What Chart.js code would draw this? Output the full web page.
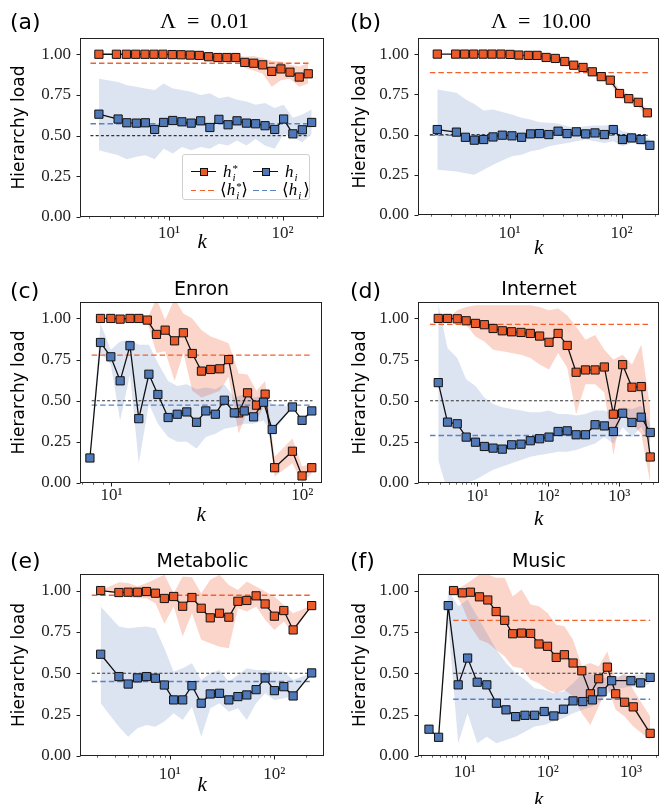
<!DOCTYPE html>
<html>
<head>
<meta charset="utf-8">
<script src="https://cdn.jsdelivr.net/npm/chart.js@4.4.1/dist/chart.umd.min.js"></script>
<style>
  html, body { margin: 0; padding: 0; background: #fff; }
  #fig { position: relative; width: 661px; height: 804px; overflow: hidden; background: #fff; }
  #fig canvas { position: absolute; }
  .letter { position: absolute; font: 22px "DejaVu Sans"; line-height: 1; color: #000; white-space: nowrap; }
  .title { position: absolute; line-height: 1; color: #000; white-space: nowrap; transform: translateX(-50%); }
  .legend { position: absolute; border: 1px solid #cfcfcf; border-radius: 3px; background: rgba(255,255,255,0.85); box-sizing: border-box; }
  .legend > * { position: absolute; }
  .lline { height: 1.3px; background: #111; }
  .lmark { width: 8px; height: 8px; border: 1px solid #111; box-sizing: border-box; }
  .ldash { height: 1.5px; }
  .ml { font: 17px "Liberation Serif", "DejaVu Serif"; line-height: 1; white-space: nowrap; color: #000; }
  .ml i { font-style: italic; }
  .ss { position: relative; display: inline-block; width: 6px; height: 10px; }
  .ss span { position: absolute; left: 1px; font-size: 11px; line-height: 1; }
  .ss .up { top: -4px; }
  .ss .dn { top: 5px; font-style: italic; }
</style>
</head>
<body>
<div id="fig"></div>
<script>
// ===== Hierarchy load vs degree, six panels =====

const ORANGE      = '#ED5A2A';
const ORANGE_DASH = '#F2622E';
const ORANGE_BAND = 'rgba(240,100,60,0.27)';
const BLUE        = '#4E78B8';
const BLUE_DASH   = '#5A82C6';
const BLUE_BAND   = 'rgba(80,115,185,0.2)';
const INK         = '#222';

const Y_TICKS = [0, 0.25, 0.5, 0.75, 1.0];
const X_TICK_LABELS = { 10: '10¹', 100: '10²', 1000: '10³' };

// ── (a) Λ = 0.01 ────────────────────────────────────────────────────────────
const A_K_STAR   = [2.42, 3.45, 4.22, 5.1, 6.15, 7.38, 8.85, 10.7, 12.8, 15.4, 18.5, 22.3, 26.9, 32.3, 38.7, 46.4, 55.7, 66.8, 80.2, 96.6, 116, 140, 168];
const A_HSTAR    = [1.0, 1.0, 1.0, 1.0, 1.0, 1.0, 1.0, 0.998, 0.997, 0.995, 0.993, 0.985, 0.98, 0.98, 0.98, 0.95, 0.945, 0.935, 0.895, 0.91, 0.89, 0.86, 0.88];
const A_HSTAR_HI = [1, 1, 1, 1, 1, 1, 1, 1, 1, 1, 1, 0.995, 0.99, 0.99, 0.995, 0.985, 0.99, 0.975, 0.96, 0.955, 0.935, 0.925, 0.945];
const A_HSTAR_LO = [1, 1, 1, 1, 1, 1, 1, 0.996, 0.994, 0.99, 0.986, 0.975, 0.97, 0.97, 0.965, 0.915, 0.9, 0.88, 0.8, 0.84, 0.85, 0.8, 0.82];
const A_K        = [2.42, 3.57, 4.26, 5.17, 6.2, 7.48, 8.98, 10.8, 13.0, 15.7, 19.0, 22.9, 27.5, 33.1, 39.7, 48.0, 57.9, 70.0, 85.1, 102, 123, 149, 180];
const A_H        = [0.632, 0.602, 0.579, 0.577, 0.579, 0.538, 0.581, 0.593, 0.585, 0.577, 0.591, 0.55, 0.6, 0.567, 0.591, 0.577, 0.573, 0.561, 0.538, 0.602, 0.511, 0.536, 0.581];
const A_H_HI     = [0.85, 0.83, 0.81, 0.8, 0.79, 0.78, 0.82, 0.79, 0.78, 0.77, 0.75, 0.76, 0.73, 0.74, 0.72, 0.71, 0.69, 0.7, 0.67, 0.69, 0.61, 0.63, 0.66];
const A_H_LO     = [0.41, 0.38, 0.355, 0.37, 0.38, 0.355, 0.42, 0.39, 0.43, 0.41, 0.43, 0.42, 0.45, 0.44, 0.47, 0.44, 0.48, 0.44, 0.42, 0.51, 0.49, 0.46, 0.51];
const A_MEANS    = [0.945, 0.573, 0.5];   // <h*>, <h>, neutral
const A_SPAN     = [2.04, 171];

// ── (b) Λ = 10.00 ───────────────────────────────────────────────────────────
const B_K_STAR   = [2.26, 3.30, 3.97, 4.78, 5.80, 6.97, 8.38, 10.1, 12.1, 14.7, 17.6, 21.2, 25.6, 31.1, 37.4, 45.3, 54.8, 65.9, 79.3, 96, 116, 141, 170];
const B_HSTAR    = [1.0, 1.0, 1.0, 1.0, 1.0, 1.0, 1.0, 0.998, 0.994, 0.992, 0.992, 0.979, 0.973, 0.954, 0.931, 0.917, 0.89, 0.86, 0.838, 0.755, 0.723, 0.70, 0.635];
const B_HSTAR_HI = [1, 1, 1, 1, 1, 1, 1, 1, 0.997, 0.996, 0.996, 0.985, 0.98, 0.963, 0.942, 0.93, 0.905, 0.88, 0.86, 0.78, 0.75, 0.725, 0.655];
const B_HSTAR_LO = [1, 1, 1, 1, 1, 1, 1, 0.996, 0.991, 0.988, 0.988, 0.973, 0.966, 0.945, 0.92, 0.904, 0.873, 0.84, 0.815, 0.73, 0.695, 0.672, 0.61];
const B_K        = [2.26, 3.35, 4.03, 4.84, 5.87, 7.11, 8.6, 10.5, 12.8, 15.4, 18.5, 22.4, 27.1, 32.6, 39.5, 47.8, 57.9, 70.2, 84.4, 102, 123, 149, 179];
const B_H        = [0.531, 0.515, 0.483, 0.465, 0.469, 0.485, 0.496, 0.492, 0.483, 0.504, 0.506, 0.5, 0.521, 0.506, 0.517, 0.504, 0.51, 0.5, 0.531, 0.469, 0.479, 0.469, 0.433];
const B_H_HI     = [0.78, 0.76, 0.72, 0.69, 0.65, 0.656, 0.64, 0.625, 0.604, 0.594, 0.577, 0.573, 0.569, 0.552, 0.542, 0.552, 0.556, 0.556, 0.562, 0.521, 0.51, 0.49, 0.47];
const B_H_LO     = [0.281, 0.271, 0.26, 0.25, 0.281, 0.313, 0.338, 0.365, 0.375, 0.396, 0.406, 0.427, 0.438, 0.448, 0.458, 0.469, 0.458, 0.448, 0.458, 0.427, 0.448, 0.438, 0.42];
const B_MEANS    = [0.885, 0.495, 0.5];
const B_SPAN     = [1.94, 172];

// ── (c) Enron ───────────────────────────────────────────────────────────────
const C_K_STAR   = [8.76, 9.92, 11.1, 12.5, 13.9, 15.4, 17.2, 19.1, 21.4, 23.8, 26.5, 29.6, 33.1, 36.9, 41.1, 46.4, 51.6, 57.5, 63.8, 71.5, 88.7, 99.6, 112];
const C_HSTAR    = [1.0, 1.0, 0.996, 1.0, 1.0, 0.99, 0.903, 0.929, 0.864, 0.913, 0.787, 0.68, 0.69, 0.694, 0.75, 0.426, 0.548, 0.473, 0.54, 0.093, 0.193, 0.043, 0.093];
const C_HSTAR_HI = [1, 1, 1, 1, 1, 1, 1.12, 0.99, 1.12, 1.03, 1.0, 0.93, 0.89, 0.87, 0.85, 0.665, 0.66, 0.56, 0.62, 0.16, 0.27, 0.1, 0.12];
const C_HSTAR_LO = [1, 1, 0.99, 1, 1, 0.98, 0.79, 0.8, 0.62, 0.79, 0.56, 0.52, 0.54, 0.56, 0.645, 0.3, 0.44, 0.38, 0.48, 0.04, 0.12, 0.0, 0.06];
const C_K        = [7.71, 8.76, 9.92, 11.1, 12.5, 13.9, 15.7, 17.5, 19.8, 22.1, 24.8, 27.9, 31.2, 35.0, 39.0, 44.0, 49.6, 55.5, 62.6, 69.5, 88.7, 99.6, 112];
const C_H        = [0.152, 0.854, 0.767, 0.621, 0.834, 0.391, 0.661, 0.538, 0.398, 0.418, 0.432, 0.369, 0.438, 0.418, 0.503, 0.426, 0.438, 0.402, 0.491, 0.325, 0.462, 0.381, 0.438];
const C_H_HI     = [0.152, 0.97, 0.81, 0.86, 0.87, 0.84, 0.84, 0.73, 0.62, 0.59, 0.6, 0.57, 0.58, 0.57, 0.6, 0.52, 0.54, 0.52, 0.53, 0.48, 0.462, 0.381, 0.438];
const C_H_LO     = [0.152, 0.79, 0.72, 0.38, 0.66, 0.12, 0.48, 0.36, 0.28, 0.25, 0.25, 0.21, 0.28, 0.3, 0.33, 0.34, 0.36, 0.36, 0.38, 0.3, 0.462, 0.381, 0.438];
const C_MEANS    = [0.777, 0.473, 0.5];
const C_SPAN     = [7.87, 113];

// ── (d) Internet ────────────────────────────────────────────────────────────
const D_K        = [2.8, 3.78, 5.18, 6.93, 9.37, 12.5, 16.6, 22.4, 30.3, 41.1, 55.6, 75.2, 102, 137, 184, 246, 333, 455, 615, 824, 1114, 1507, 2037, 2730];
const D_HSTAR    = [1.0, 1.0, 0.998, 0.986, 0.97, 0.962, 0.939, 0.925, 0.919, 0.915, 0.909, 0.893, 0.855, 0.909, 0.836, 0.673, 0.687, 0.687, 0.705, 0.418, 0.719, 0.582, 0.586, 0.158];
const D_HSTAR_HI = [1.0, 1.0, 1.05, 1.07, 1.08, 1.08, 1.08, 1.08, 1.08, 1.08, 1.08, 1.07, 1.05, 1.06, 1.02, 0.95, 0.87, 0.9, 0.81, 0.75, 0.78, 0.72, 0.84, 0.45];
const D_HSTAR_LO = [1.0, 1.0, 0.98, 0.96, 0.89, 0.86, 0.81, 0.8, 0.79, 0.78, 0.76, 0.72, 0.69, 0.79, 0.7, 0.42, 0.6, 0.6, 0.55, 0.17, 0.46, 0.36, 0.3, 0.0];
const D_H        = [0.61, 0.37, 0.36, 0.279, 0.248, 0.222, 0.212, 0.206, 0.232, 0.236, 0.257, 0.269, 0.279, 0.313, 0.317, 0.293, 0.293, 0.354, 0.347, 0.313, 0.424, 0.368, 0.4, 0.307];
const D_H_HI     = [1.09, 0.82, 0.76, 0.63, 0.59, 0.52, 0.48, 0.46, 0.45, 0.44, 0.43, 0.43, 0.44, 0.42, 0.42, 0.41, 0.42, 0.44, 0.44, 0.42, 0.46, 0.45, 0.47, 0.36];
const D_H_LO     = [0.14, -0.05, -0.02, 0.0, 0.02, 0.05, 0.08, 0.1, 0.12, 0.14, 0.16, 0.17, 0.18, 0.19, 0.19, 0.2, 0.22, 0.24, 0.28, 0.24, 0.34, 0.28, 0.34, 0.24];
const D_MEANS    = [0.964, 0.289, 0.5];
const D_SPAN     = [2.14, 2730];

// ── (e) Metabolic ───────────────────────────────────────────────────────────
const E_K        = [2.19, 3.27, 4.01, 4.92, 6.0, 7.3, 8.89, 10.9, 13.3, 16.3, 20.0, 24.4, 29.9, 36.7, 44.8, 54.5, 66.9, 81.5, 100, 123, 151, 227];
const E_HSTAR    = [1.0, 0.988, 0.99, 0.99, 0.994, 0.984, 0.952, 0.964, 0.905, 0.958, 0.893, 0.835, 0.863, 0.839, 0.935, 0.94, 0.968, 0.919, 0.845, 0.879, 0.762, 0.909];
const E_HSTAR_HI = [1.0, 1.05, 1.045, 1.024, 1.045, 1.07, 1.095, 0.984, 1.085, 1.08, 0.984, 1.065, 1.095, 1.034, 1.004, 1.054, 1.025, 0.994, 0.964, 0.913, 0.863, 0.909];
const E_HSTAR_LO = [1.0, 0.974, 0.96, 0.954, 0.954, 0.923, 0.8, 0.903, 0.722, 0.863, 0.702, 0.681, 0.661, 0.651, 0.893, 0.873, 0.903, 0.823, 0.762, 0.813, 0.742, 0.909];
const E_H        = [0.615, 0.48, 0.435, 0.472, 0.48, 0.47, 0.429, 0.339, 0.339, 0.425, 0.319, 0.375, 0.379, 0.339, 0.359, 0.369, 0.401, 0.472, 0.395, 0.419, 0.363, 0.502];
const E_H_HI     = [0.903, 0.782, 0.772, 0.778, 0.782, 0.772, 0.651, 0.51, 0.53, 0.56, 0.46, 0.5, 0.52, 0.45, 0.49, 0.53, 0.52, 0.52, 0.51, 0.51, 0.46, 0.502];
const E_H_LO     = [0.319, 0.177, 0.117, 0.167, 0.188, 0.177, 0.208, 0.258, 0.218, 0.298, 0.117, 0.288, 0.319, 0.268, 0.288, 0.218, 0.319, 0.379, 0.339, 0.349, 0.359, 0.502];
const E_MEANS    = [0.972, 0.45, 0.5];
const E_SPAN     = [1.8, 227];

// ── (f) Music ───────────────────────────────────────────────────────────────
const F_K_STAR   = [7.31, 9.37, 11.7, 15.0, 18.9, 23.8, 30.2, 37.7, 48.3, 62.0, 78.0, 99.1, 126, 158, 201, 256, 325, 409, 520, 655, 839, 1067, 1706];
const F_HSTAR    = [1.0, 0.986, 0.99, 0.962, 0.943, 0.873, 0.82, 0.739, 0.743, 0.741, 0.677, 0.663, 0.596, 0.612, 0.562, 0.515, 0.376, 0.467, 0.537, 0.376, 0.325, 0.297, 0.137];
const F_HSTAR_HI = [1.0, 1.026, 1.057, 1.097, 1.097, 1.077, 1.077, 0.966, 1.006, 0.915, 0.905, 0.865, 0.794, 0.784, 0.703, 0.545, 0.562, 0.541, 0.632, 0.461, 0.501, 0.4, 0.238];
const F_HSTAR_LO = [1.0, 0.905, 0.784, 0.703, 0.683, 0.642, 0.602, 0.541, 0.531, 0.461, 0.44, 0.4, 0.38, 0.4, 0.36, 0.259, 0.188, 0.299, 0.42, 0.279, 0.238, 0.178, 0.097];
const F_K        = [3.70, 4.83, 6.31, 8.32, 10.8, 14.1, 18.4, 24.0, 31.3, 40.9, 53.0, 69.2, 90.4, 118, 154, 201, 263, 344, 449, 586, 1000, 1306, 1706];
const F_H        = [0.162, 0.113, 0.909, 0.43, 0.592, 0.446, 0.43, 0.319, 0.279, 0.238, 0.246, 0.246, 0.269, 0.242, 0.283, 0.333, 0.329, 0.339, 0.388, 0.455, 0.455, 0.442, 0.475];
const F_H_HI     = [0.162, 0.113, 1.0, 0.905, 0.945, 0.844, 0.743, 0.642, 0.562, 0.501, 0.461, 0.41, 0.4, 0.38, 0.39, 0.44, 0.501, 0.491, 0.471, 0.481, 0.491, 0.491, 0.501];
const F_H_LO     = [0.162, 0.113, 0.8, 0.077, 0.259, 0.077, 0.117, 0.077, 0.097, 0.117, 0.147, 0.178, 0.188, 0.208, 0.228, 0.259, 0.279, 0.299, 0.339, 0.4, 0.42, 0.41, 0.44];
const F_MEANS    = [0.82, 0.343, 0.5];
const F_SPAN     = [7.24, 1706];

// ── Panel layout (page pixels) ──────────────────────────────────────────────
// area = [left, top, right, bottom] of the axes box; xr = log x range.
const PANELS = [
  { tag: '(a)', title: 'Λ\u2002=\u20020.01', serif: true, area: [80, 38, 325, 217], xr: [1.65, 232], tickPad: 6, kPad: 22, yPad: 9,
    kS: A_K_STAR, hS: A_HSTAR, hSHi: A_HSTAR_HI, hSLo: A_HSTAR_LO, k: A_K, h: A_H, hHi: A_H_HI, hLo: A_H_LO, means: A_MEANS, span: A_SPAN },
  { tag: '(b)', title: 'Λ\u2002=\u200210.00', serif: true, area: [418, 38, 660, 215], xr: [1.52, 217], tickPad: 8, kPad: 14, yPad: 12,
    kS: B_K_STAR, hS: B_HSTAR, hSHi: B_HSTAR_HI, hSLo: B_HSTAR_LO, k: B_K, h: B_H, hHi: B_H_HI, hLo: B_H_LO, means: B_MEANS, span: B_SPAN },
  { tag: '(c)', title: 'Enron', area: [80, 302, 323, 483], xr: [6.84, 127], tickPad: 2, kPad: 15, yPad: 9,
    kS: C_K_STAR, hS: C_HSTAR, hSHi: C_HSTAR_HI, hSLo: C_HSTAR_LO, k: C_K, h: C_H, hHi: C_H_HI, hLo: C_H_LO, means: C_MEANS, span: C_SPAN },
  { tag: '(d)', title: 'Internet', area: [418, 302, 660, 483], xr: [1.45, 3650], tickPad: 3, kPad: 11, yPad: 12,
    kS: D_K, hS: D_HSTAR, hSHi: D_HSTAR_HI, hSLo: D_HSTAR_LO, k: D_K, h: D_H, hHi: D_H_HI, hLo: D_H_LO, means: D_MEANS, span: D_SPAN },
  { tag: '(e)', title: 'Metabolic', area: [80, 574, 325, 756], xr: [1.39, 299], tickPad: 8, kPad: 18, yPad: 9,
    kS: E_K, hS: E_HSTAR, hSHi: E_HSTAR_HI, hSLo: E_HSTAR_LO, k: E_K, h: E_H, hHi: E_H_HI, hLo: E_H_LO, means: E_MEANS, span: E_SPAN },
  { tag: '(f)', title: 'Music', area: [418, 574, 660, 756], xr: [2.73, 2190], tickPad: 6, kPad: 3, yPad: 12,
    kS: F_K_STAR, hS: F_HSTAR, hSHi: F_HSTAR_HI, hSLo: F_HSTAR_LO, k: F_K, h: F_H, hHi: F_H_HI, hLo: F_H_LO, means: F_MEANS, span: F_SPAN },
];

// ── Helpers ─────────────────────────────────────────────────────────────────

const pts = (ks, vs) => ks.map((k, i) => ({ x: k, y: vs[i] }));

function logTicks(min, max) {
  const out = [];
  for (let e = Math.floor(Math.log10(min)); e <= Math.ceil(Math.log10(max)); e++) {
    for (let m = 1; m < 10; m++) {
      const v = m * Math.pow(10, e);
      if (v >= min && v <= max) out.push(v);
    }
  }
  return out;
}

// Matplotlib-style box plus outward ticks (minor ones shorter).
const frame = {
  id: 'frame',
  afterDatasetsDraw(chart) {
    const { ctx, chartArea: a, scales: { x, y } } = chart;
    ctx.save();
    ctx.strokeStyle = INK;
    ctx.lineWidth = 1;
    const l = Math.round(a.left) + 0.5, t = Math.round(a.top) + 0.5;
    const r = Math.round(a.right) - 0.5, b = Math.round(a.bottom) - 0.5;
    ctx.strokeRect(l, t, r - l, b - t);
    x.ticks.forEach(tk => {
      const px = Math.round(x.getPixelForValue(tk.value)) + 0.5;
      const major = X_TICK_LABELS[tk.value] !== undefined;
      ctx.lineWidth = major ? 1 : 0.7;
      ctx.beginPath(); ctx.moveTo(px, b); ctx.lineTo(px, b + (major ? 4 : 2.2)); ctx.stroke();
    });
    ctx.lineWidth = 1;
    y.ticks.forEach(tk => {
      const py = Math.round(y.getPixelForValue(tk.value)) + 0.5;
      ctx.beginPath(); ctx.moveTo(l, py); ctx.lineTo(l - 4, py); ctx.stroke();
    });
    ctx.restore();
  },
};

function series(ks, vs, color, order) {
  return { data: pts(ks, vs), borderColor: '#111', borderWidth: 1.3, pointStyle: 'rect', pointRadius: 5.8,
           pointBackgroundColor: color, pointBorderColor: '#111', pointBorderWidth: 1, fill: false, order };
}

function hline(span, v, color, dash, width, order) {
  return { data: [{ x: span[0], y: v }, { x: span[1], y: v }], borderColor: color, borderWidth: width,
           borderDash: dash, pointRadius: 0, fill: false, order };
}

function band(ks, hi, lo, color, order) {
  return [
    { data: pts(ks, hi), borderColor: 'rgba(0,0,0,0)', borderWidth: 0, pointRadius: 0, fill: '+1', backgroundColor: color, order },
    { data: pts(ks, lo), borderColor: 'rgba(0,0,0,0)', borderWidth: 0, pointRadius: 0, fill: false, order },
  ];
}

// ── Build ───────────────────────────────────────────────────────────────────

const fig = document.getElementById('fig');

function addText(cls, text, style) {
  const d = document.createElement('div');
  d.className = cls;
  d.textContent = text;
  Object.assign(d.style, style);
  fig.appendChild(d);
}

function buildPanel(p) {
  const [l, t, r, b] = p.area;
  const cx = l - 80, cy = t - 40;
  const w = r - cx + 6, h = b - cy + 60;
  const canvas = document.createElement('canvas');
  canvas.width = w; canvas.height = h;
  Object.assign(canvas.style, { left: cx + 'px', top: cy + 'px', width: w + 'px', height: h + 'px' });
  fig.appendChild(canvas);

  const datasets = [
    series(p.k, p.h, BLUE, 0),
    series(p.kS, p.hS, ORANGE, 1),
    hline(p.span, p.means[1], BLUE_DASH, [5.5, 3], 1.4, 2),
    hline(p.span, p.means[0], ORANGE_DASH, [5.5, 3], 1.4, 2),
    hline(p.span, p.means[2], '#333', [3, 2.2], 1.2, 2),
    ...band(p.kS, p.hSHi, p.hSLo, ORANGE_BAND, 4),
    ...band(p.k, p.hHi, p.hLo, BLUE_BAND, 3),
  ];

  new Chart(canvas, {
    type: 'line',
    data: { datasets },
    options: {
      responsive: false,
      animation: false,
      devicePixelRatio: 1,
      events: [],
      layout: { padding: { top: 40, right: 6, left: 0, bottom: 0 } },
      plugins: { legend: { display: false }, tooltip: { enabled: false } },
      scales: {
        x: {
          type: 'logarithmic', position: 'bottom', min: p.xr[0], max: p.xr[1],
          grid: { display: false, drawTicks: false }, border: { display: false },
          afterBuildTicks: s => { s.ticks = logTicks(p.xr[0], p.xr[1]).map(v => ({ value: v })); },
          afterFit: s => { s.height = 60; },
          ticks: { autoSkip: false, maxRotation: 0, padding: p.tickPad, color: INK,
                   font: { family: 'Liberation Serif', size: 17 },
                   callback: v => X_TICK_LABELS[v] ?? '' },
          title: { display: true, text: 'k', color: '#000', padding: { top: 0, bottom: p.kPad },
                   font: { family: 'Liberation Serif', style: 'italic', size: 21 } },
        },
        y: {
          type: 'linear', min: 0, max: 1.1,
          grid: { display: false, drawTicks: false }, border: { display: false },
          afterBuildTicks: s => { s.ticks = Y_TICKS.map(v => ({ value: v })); },
          afterFit: s => { s.width = 80; },
          ticks: { padding: 9, color: INK, font: { family: 'Liberation Serif', size: 17 },
                   callback: v => v.toFixed(2) },
          title: { display: true, text: 'Hierarchy load', color: '#000', padding: { top: p.yPad, bottom: 0 },
                   font: { family: 'DejaVu Sans', size: 17 } },
        },
      },
    },
    plugins: [frame],
  });

  // panel letter and title
  const right = l > 200;
  const rowBase = t < 100 ? 29.7 : t < 400 ? 298.7 : 568.7;
  addText('letter', p.tag, { left: (right ? 350 : 10) + 'px', top: (rowBase - 0.846 * 22) + 'px' });
  if (p.serif) {
    addText('title', p.title, { left: ((l + r) / 2 + 2) + 'px', top: (28 - 0.8375 * 22) + 'px',
                                font: '22px "Liberation Serif"', lineHeight: '1' });
  } else {
    const base = t < 400 ? 295.5 : 567;
    addText('title', p.title, { left: ((l + r) / 2) + 'px', top: (base - 0.846 * 19) + 'px',
                                font: '19px "DejaVu Sans"', lineHeight: '1' });
  }
}

PANELS.forEach(buildPanel);

// ── Legend of panel (a) ─────────────────────────────────────────────────────

function mathLabel(mean, star) {
  const s = document.createElement('span');
  s.className = 'ml';
  if (mean) s.appendChild(document.createTextNode('⟨'));
  const i = document.createElement('i'); i.textContent = 'h'; s.appendChild(i);
  const ss = document.createElement('span'); ss.className = 'ss';
  if (star) { const up = document.createElement('span'); up.className = 'up'; up.textContent = '*'; ss.appendChild(up); }
  const dn = document.createElement('span'); dn.className = 'dn'; dn.textContent = 'i'; ss.appendChild(dn);
  s.appendChild(ss);
  if (mean) s.appendChild(document.createTextNode('⟩'));
  return s;
}

function buildLegend() {
  const box = document.createElement('div');
  box.className = 'legend';
  Object.assign(box.style, { left: '182px', top: '154px', width: '128px', height: '46px' });
  const put = (el, style) => { Object.assign(el.style, style); box.appendChild(el); return el; };
  const div = cls => { const d = document.createElement('div'); d.className = cls; return d; };

  [[8, ORANGE], [70, BLUE]].forEach(([x0, color], j) => {
    put(div('lline'), { left: x0 + 'px', top: '16px', width: '25px' });
    put(div('lmark'), { left: (x0 + 8.5) + 'px', top: '12.5px', background: color });
    put(mathLabel(false, j === 0), { left: (x0 + 32) + 'px', top: '8px' });
    const dash = put(div('ldash'), { left: x0 + 'px', top: '34.5px', width: '25px' });
    const dc = j === 0 ? ORANGE_DASH : BLUE_DASH;
    dash.style.background = `repeating-linear-gradient(to right, ${dc} 0 5.5px, transparent 5.5px 8.5px)`;
    put(mathLabel(true, j === 0), { left: (x0 + 29) + 'px', top: '26px' });
  });
  fig.appendChild(box);
}

buildLegend();
</script>
</body>
</html>
